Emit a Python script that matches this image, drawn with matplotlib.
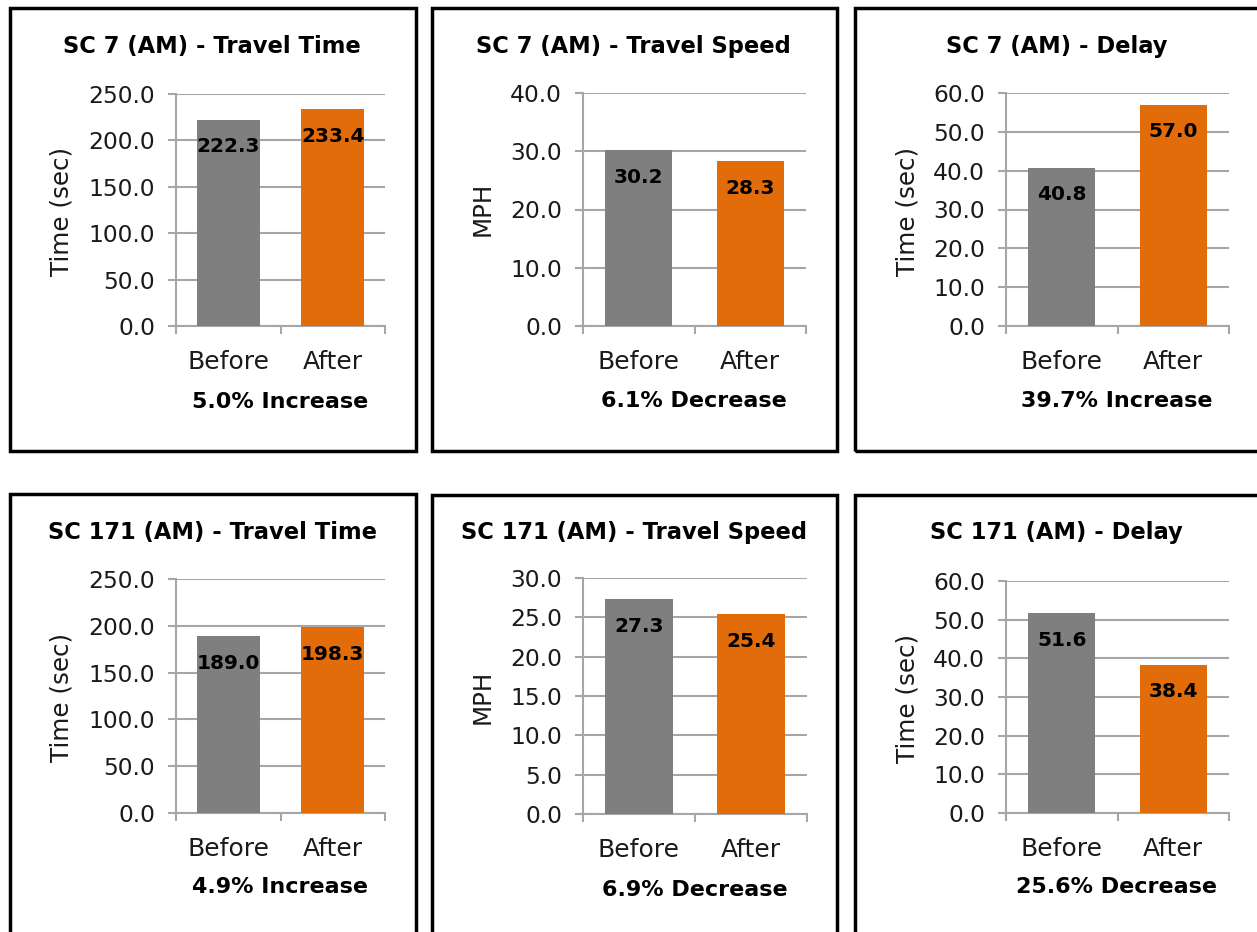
import matplotlib
matplotlib.use('Agg')
import matplotlib.pyplot as plt
from matplotlib.patches import Rectangle

W, H = 1257, 932

categories = ['Before', 'After']
titles = ['SC 7 (AM) - Travel Time', 'SC 7 (AM) - Travel Speed', 'SC 7 (AM) - Delay',
          'SC 171 (AM) - Travel Time', 'SC 171 (AM) - Travel Speed', 'SC 171 (AM) - Delay']
ylabels = ['Time (sec)', 'MPH', 'Time (sec)', 'Time (sec)', 'MPH', 'Time (sec)']
before_vals = [222.3, 30.2, 40.8, 189.0, 27.3, 51.6]
after_vals = [233.4, 28.3, 57.0, 198.3, 25.4, 38.4]
ymax = [250, 40, 60, 250, 30, 60]
ystep = [50, 10, 10, 50, 5, 10]
footers = ['5.0% Increase', '6.1% Decrease', '39.7% Increase',
           '4.9% Increase', '6.9% Decrease', '25.6% Decrease']

# layout in pixels: axes (left, top, right, bottom), box (left, top, right, bottom)
axes_px = [(176, 94, 385, 326), (583, 93, 806, 326), (1006, 93, 1229, 326),
           (176, 579, 385, 813), (583, 578, 807, 814), (1006, 581, 1229, 813)]
boxes_px = [(10, 8, 416, 451), (432, 8, 837, 451), (855, 8, 1262, 451),
            (10, 494, 416, 940), (432, 495, 837, 940), (855, 495, 1262, 940)]
title_px = [(212, 47), (633, 47), (1057, 47), (212, 532), (634, 532), (1056, 533)]
ylab_px = [(62, 211), (483, 209), (907, 211), (62, 697), (483, 697), (907, 698)]
foot_px = [(280, 402), (694, 401), (1117, 401), (280, 887), (695, 890), (1117, 887)]

gray_bar = '#7f7f7f'
orange = '#e36c0a'
grid_c = '#a6a6a6'

fig = plt.figure(figsize=(W / 100, H / 100), dpi=100)
fig.patch.set_facecolor('white')


def fx(x):
    return x / W


def fy(y):
    return 1 - y / H


for i in range(6):
    bl, bt, br, bb = boxes_px[i]
    fig.patches.append(Rectangle((fx(bl), fy(bb)), fx(br) - fx(bl), fy(bt) - fy(bb),
                                 transform=fig.transFigure, fill=False,
                                 edgecolor='black', linewidth=2.5, zorder=0))

    l, t, r, b = axes_px[i]
    ax = fig.add_axes([fx(l), fy(b), fx(r) - fx(l), fy(t) - fy(b)])
    vals = [before_vals[i], after_vals[i]]
    ax.bar([0, 1], vals, width=0.6, color=[gray_bar, orange], zorder=3)
    ax.set_xlim(-0.5, 1.5)
    ax.set_ylim(0, ymax[i])
    ticks = list(range(0, ymax[i] + 1, ystep[i]))
    ax.set_yticks(ticks)
    ax.set_yticklabels(['%.1f' % v for v in ticks], fontsize=16.8, color='#1a1a1a')
    ax.yaxis.grid(True, color=grid_c, linewidth=1.5, zorder=0)
    ax.set_axisbelow(True)
    ax.tick_params(axis='y', length=6, width=1.5, color=grid_c, pad=9)

    ax.set_xticks([0, 1])
    ax.set_xticklabels(categories, fontsize=18, color='#1a1a1a')
    ax.set_xticks([-0.5, 0.5, 1.5], minor=True)
    ax.tick_params(axis='x', which='major', length=0, pad=17)
    ax.tick_params(axis='x', which='minor', length=6, width=1.5, color=grid_c)

    for s in ['top', 'right']:
        ax.spines[s].set_visible(False)
    for s in ['left', 'bottom']:
        ax.spines[s].set_color(grid_c)
        ax.spines[s].set_linewidth(1.5)

    for x, v in zip([0, 1], vals):
        ax.annotate('%.1f' % v, (x, v), xytext=(0, -19.5), textcoords='offset points',
                    ha='center', va='center', fontsize=14.5, fontweight='bold', zorder=5)

    tx, ty = title_px[i]
    fig.text(fx(tx), fy(ty), titles[i], ha='center', va='center',
             fontsize=16.3, fontweight='bold')
    lx, ly = ylab_px[i]
    fig.text(fx(lx), fy(ly), ylabels[i], ha='center', va='center', rotation=90,
             fontsize=17.7, color='#1a1a1a')
    ftx, fty = foot_px[i]
    fig.text(fx(ftx), fy(fty), footers[i], ha='center', va='center',
             fontsize=16, fontweight='bold')

fig.savefig('out.png', dpi=100)
